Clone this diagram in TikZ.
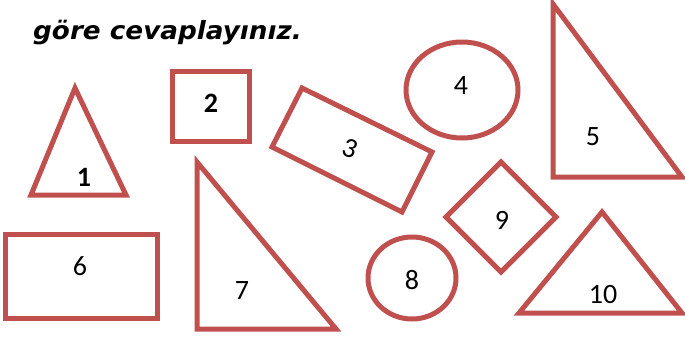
\documentclass[tikz,border=0pt]{standalone}
\usepackage{fontspec}
\setmainfont{Carlito}
\newfontfamily\titlefont{DejaVu Sans}
\definecolor{shapered}{HTML}{C0504D}
\tikzset{
  shp/.style={draw=shapered, line width=5pt, line join=miter},
  lbl/.style={font=\fontsize{28}{28}\selectfont, inner sep=0pt, anchor=center},
  blbl/.style={font=\fontsize{28}{28}\selectfont\bfseries, inner sep=0pt, anchor=center}
}
\begin{document}
\begin{tikzpicture}[x=1pt,y=-1pt]
\useasboundingbox (0,0) rectangle (685,338);
% title
\node[anchor=base west, inner sep=0pt, font=\titlefont\fontsize{25}{25}\selectfont\bfseries\itshape] (title) at (33,39) {\scalebox{1.05}[1]{göre cevaplayınız.}};
% 1 triangle
\draw[shp] (75,88) -- (126,195) -- (31,195) -- cycle;
\node[blbl] (n1) at (84,177) {1};
% 2 square
\draw[shp] (172,71) rectangle (249,141);
\node[blbl] (n2) at (211,103) {2};
% 3 rotated rectangle
\draw[shp] (302,88) -- (432,152) -- (402,212) -- (272,147) -- cycle;
\node[lbl, rotate=-20] (n3) at (350,148) {3};
% 4 ellipse
\draw[shp] (462,90) ellipse [x radius=56, y radius=48];
\node[lbl] (n4) at (461,86) {4};
% 5 right triangle
\draw[shp] (553,4) -- (682,177) -- (553,177) -- cycle;
\node[lbl] (n5) at (593,137) {5};
% 6 rectangle
\draw[shp] (5,234) rectangle (157,318);
\node[lbl] (n6) at (80,266) {6};
% 7 right triangle
\draw[shp] (197,162) -- (336,329) -- (197,329) -- cycle;
\node[lbl] (n7) at (242,291) {7};
% 8 circle
\draw[shp] (412,278) ellipse [x radius=44, y radius=41];
\node[lbl] (n8) at (412,280) {8};
% 9 diamond
\draw[shp] (501,162) -- (556,217) -- (501,272) -- (446,217) -- cycle;
\node[lbl] (n9) at (502,220) {9};
% 10 triangle
\draw[shp] (602,212) -- (682,313) -- (519,313) -- cycle;
\node[lbl] (n10) at (603,295) {10};
\end{tikzpicture}
\end{document}
